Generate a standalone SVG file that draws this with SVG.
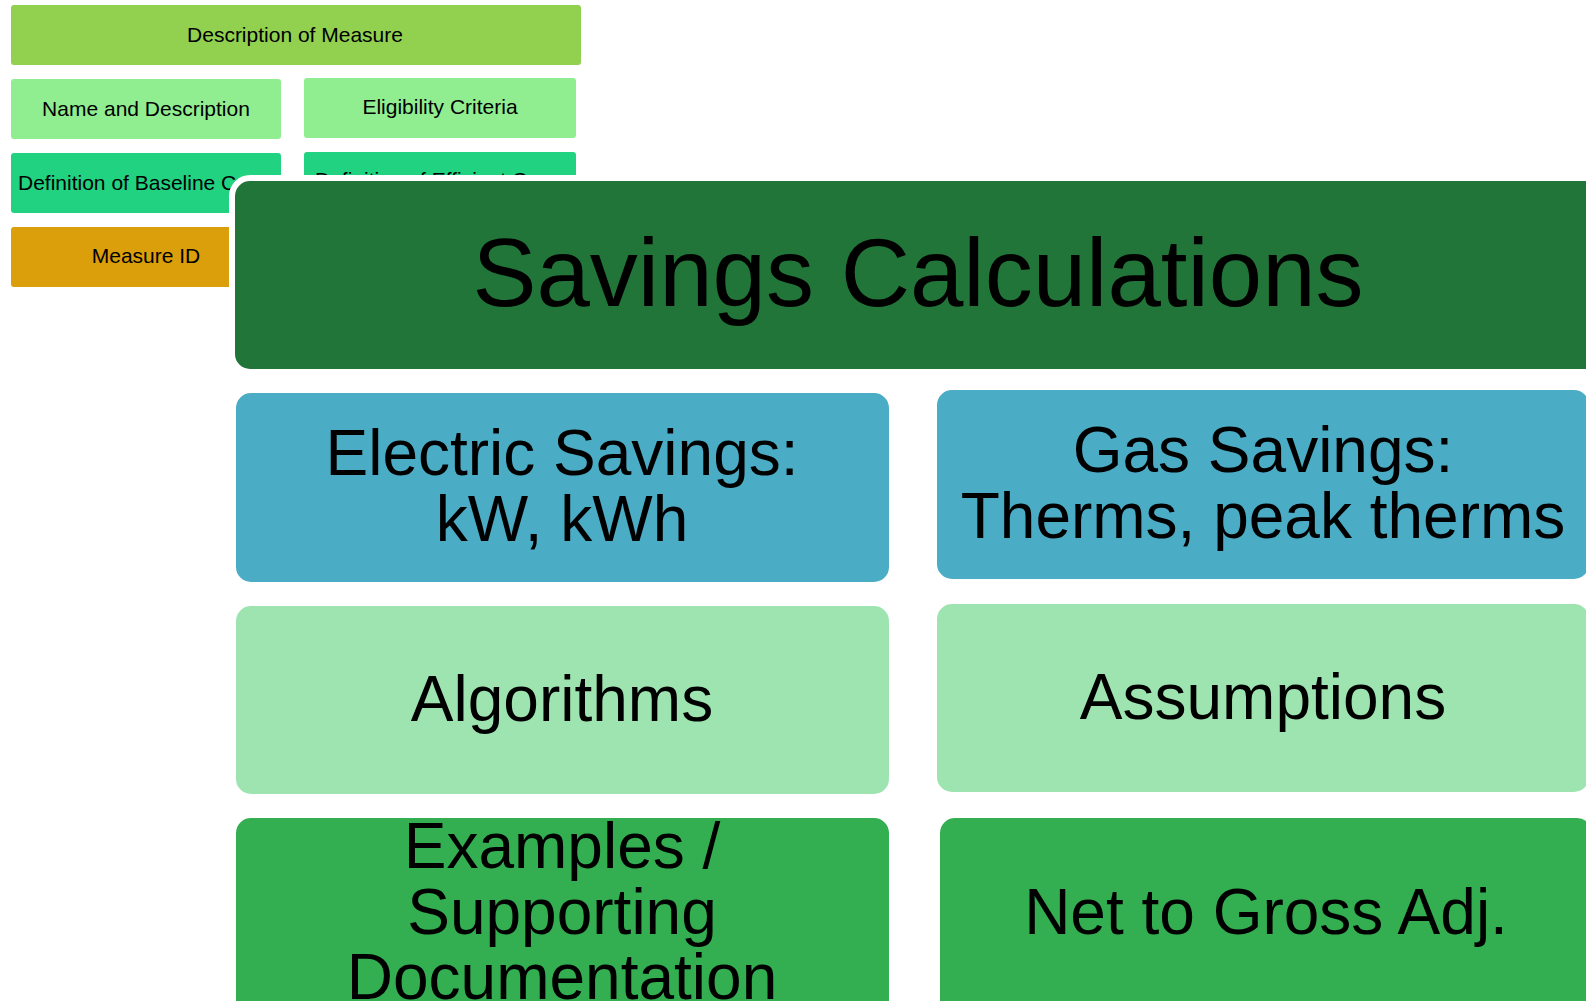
<svg xmlns="http://www.w3.org/2000/svg" width="1586" height="1001" viewBox="0 0 1586 1001">
<style>
text{font-family:"Liberation Sans",Arial,sans-serif;fill:#000}
.s{font-size:21px}
.m{font-size:64px}
.c{text-anchor:middle}
.big{stroke:#fff;stroke-width:6}
</style>
<rect width="1586" height="1001" fill="#fff"/>
<g id="connectors"></g>
<g id="description"><rect x="11" y="5" width="570" height="60" rx="3" fill="#92D050"/><text class="s c" x="295" y="42">Description of Measure</text></g>
<g id="name"><rect x="11" y="79" width="270" height="60" rx="3" fill="#90EE90"/><text class="s c" x="146" y="116">Name and Description</text></g>
<g id="eligibility"><rect x="304" y="78" width="272" height="60" rx="3" fill="#90EE90"/><text class="s c" x="440" y="114">Eligibility Criteria</text></g>
<g id="baseline"><rect x="11" y="153" width="270" height="60" rx="3" fill="#21D380"/><text class="s" x="18" y="190">Definition of Baseline C</text></g>
<g id="efficient"><rect x="304" y="152" width="272" height="60" rx="3" fill="#21D380"/><text class="s" x="315" y="187">Definition of Efficient C</text></g>
<g id="measureid"><rect x="11" y="227" width="270" height="60" rx="3" fill="#DA9F0B"/><text class="s c" x="146" y="263">Measure ID</text></g>
<g id="savings"><rect class="big" x="232" y="178" width="1380" height="194" rx="18" fill="#227538"/><text class="c" style="font-size:96px" x="918" y="306">Savings Calculations</text></g>
<g id="electric"><rect class="big" x="233" y="390" width="659" height="195" rx="18" fill="#4BACC6"/><text class="m c" x="562" y="475">Electric Savings:</text><text class="m c" x="562" y="541">kW, kWh</text></g>
<g id="gas"><rect class="big" x="934" y="387" width="658" height="195" rx="18" fill="#4BACC6"/><text class="m c" x="1263" y="472">Gas Savings:</text><text class="m c" x="1263" y="538">Therms, peak therms</text></g>
<g id="algorithms"><rect class="big" x="233" y="603" width="659" height="194" rx="18" fill="#9EE4B0"/><text class="m c" x="562" y="721">Algorithms</text></g>
<g id="assumptions"><rect class="big" x="934" y="601" width="658" height="194" rx="18" fill="#9EE4B0"/><text class="m c" x="1263" y="719">Assumptions</text></g>
<g id="examples"><rect class="big" x="233" y="815" width="659" height="210" rx="18" fill="#33AE51"/><text class="m c" x="562" y="868">Examples /</text><text class="m c" x="562" y="934">Supporting</text><text class="m c" x="562" y="999">Documentation</text></g>
<g id="nettogross"><rect class="big" x="937" y="815" width="658" height="210" rx="18" fill="#33AE51"/><text class="m c" x="1266" y="934">Net to Gross Adj.</text></g>
</svg>
